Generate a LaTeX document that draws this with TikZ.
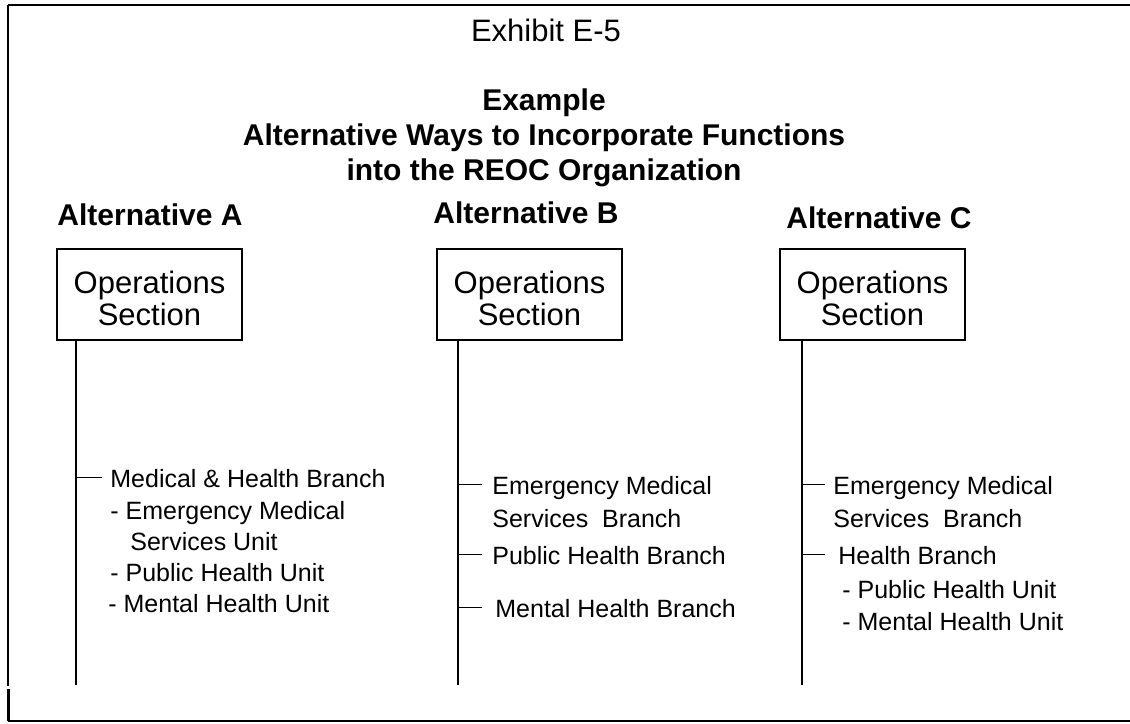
\documentclass[tikz,border=0pt]{standalone}
\usepackage{fontspec}
\setmainfont{Liberation Sans}
\usetikzlibrary{positioning}

\begin{document}
\begin{tikzpicture}[x=0.5pt,y=-0.5pt,
  opbox/.style={draw,line width=1pt,minimum width=92.5pt,minimum height=45.5pt,
    align=center,inner sep=0pt,font=\fontsize{15.5}{16}\selectfont},
  alt/.style={font=\fontsize{15}{17}\selectfont\bfseries},
  branch/.style={font=\fontsize{12.5}{15}\selectfont,inner sep=0pt,
    text height=10pt,text depth=0pt,anchor=west},
  subline/.style={font=\fontsize{12.5}{15}\selectfont,inner sep=0pt,anchor=base west},
  stem/.style={line width=0.7pt},
  tick/.style={line width=0.5pt}]
  \useasboundingbox (0,0) rectangle (1130,723);
  % frame
  \draw[line width=1.3pt] (8,5) -- (1130,5);
  \draw[line width=1.2pt] (8,5) -- (8,686);
  \draw[line width=1.2pt] (8.5,689) -- (8.5,721);
  \draw[line width=0.6pt] (8,721) -- (1130,721);
  % title
  \node[font=\fontsize{15.5}{17}\selectfont] (exh) at (546,30) {Exhibit E-5};
  \node[font=\fontsize{15}{17.5}\selectfont\bfseries,align=center] (ttl) at (544,138)
    {Example\\Alternative Ways to Incorporate Functions\\into the REOC Organization};
  % headings
  \node[alt] (altA) at (150,215) {Alternative A};
  \node[alt] (altB) at (526,213) {Alternative B};
  \node[alt] (altC) at (879,218) {Alternative C};
  % boxes
  \node[opbox] (opsA) at (149.5,294.5) {\rule{0pt}{15pt}Operations\\Section};
  \node[opbox] (opsB) at (529.5,294.5) {\rule{0pt}{15pt}Operations\\Section};
  \node[opbox] (opsC) at (872.5,294.5) {\rule{0pt}{15pt}Operations\\Section};
  % stems
  \coordinate (stemA) at (76,685);
  \coordinate (stemB) at (458,685);
  \coordinate (stemC) at (802,685);
  \draw[stem] (opsA.south -| stemA) -- (stemA);
  \draw[stem] (opsB.south -| stemB) -- (stemB);
  \draw[stem] (opsC.south -| stemC) -- (stemC);
  % alternative A
  \node[branch] (mhA) at (110,477) {Medical \& Health Branch};
  \node[subline] (emsA) at (110,519) {- Emergency Medical};
  \node[subline] (svA) at (130,550) {Services Unit};
  \node[subline] (phA) at (110,581) {- Public Health Unit};
  \node[subline] (mnA) at (108,612) {- Mental Health Unit};
  \draw[tick] (mhA.west -| stemA) -- ([xshift=-4pt]mhA.west);
  % alternative B
  \node[branch] (emsB) at (492,484) {Emergency Medical};
  \node[subline] (svB) at (492,527) {Services\ \ Branch};
  \node[branch] (phB) at (492,554) {Public Health Branch};
  \node[branch] (mnB) at (495,607) {Mental Health Branch};
  \draw[tick] (emsB.west -| stemB) -- ([xshift=-5pt]emsB.west);
  \draw[tick] (phB.west -| stemB) -- ([xshift=-5pt]phB.west);
  \draw[tick] (mnB.west -| stemB) -- ([xshift=-6.5pt]mnB.west);
  % alternative C
  \node[branch] (emsC) at (833,484) {Emergency Medical};
  \node[subline] (svC) at (833,527) {Services\ \ Branch};
  \node[branch] (hC) at (838,554) {Health Branch};
  \node[subline] (phC) at (842,598) {- Public Health Unit};
  \node[subline] (mnC) at (842,630) {- Mental Health Unit};
  \draw[tick] (emsC.west -| stemC) -- ([xshift=-4pt]emsC.west);
  \draw[tick] (hC.west -| stemC) -- ([xshift=-6.5pt]hC.west);
\end{tikzpicture}
\end{document}
